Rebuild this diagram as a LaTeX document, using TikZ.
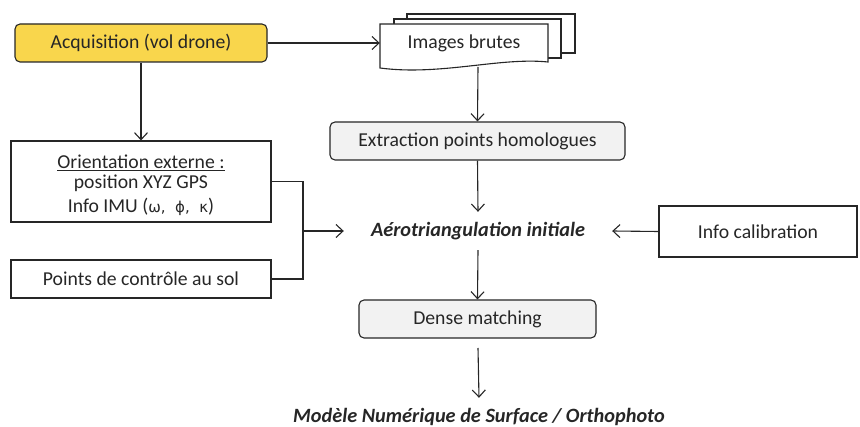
\documentclass[tikz,border=0pt]{standalone}
\usepackage{fontspec}
\setmainfont{Carlito}
\newfontfamily\grk{DejaVu Sans}
\usetikzlibrary{arrows.meta}
\definecolor{acqyellow}{HTML}{F9D64C}
\definecolor{boxgray}{HTML}{F2F2F2}
\definecolor{ink}{HTML}{262626}
\tikzset{
  base/.style={draw=ink, line width=1.1pt, text=ink, inner sep=0pt, align=center},
  roundbox/.style={base, rounded corners=5pt},
  plainbox/.style={base},
  label/.style={text=ink, inner sep=0pt, align=center, font=\bfseries\itshape\fontsize{20.3}{24}\selectfont},
  arr/.style={draw=ink, line width=1.1pt, -{Straight Barb[length=7pt,width=13pt,line width=1.1pt]}},
  conn/.style={draw=ink, line width=1.1pt},
  page/.style={draw=ink, line width=1.1pt, fill=white}
}
\begin{document}
\begin{tikzpicture}[x=1pt,y=-1pt, font=\fontsize{19.7}{23}\selectfont]
\useasboundingbox (0,0) rectangle (860,427);
% nodes
\node[roundbox, fill=acqyellow, minimum width=252pt, minimum height=38pt] (acq) at (141,43) {Acquisition (vol drone)};
% document stack
\draw[page] (407,14) rectangle (575,53);
\draw[page] (394,19) rectangle (561,58);
\draw[page] (380,24) -- (548,24) -- (548,62) .. controls (500,57) and (440,76) .. (380,68) -- cycle;
\node[inner sep=0pt, text=ink, minimum width=168pt, minimum height=38pt] (img) at (464,43) {Images brutes};
\coordinate (imgb) at (478,67);
\node[roundbox, fill=boxgray, minimum width=295pt, minimum height=38pt] (ext) at (477.5,141) {Extraction points homologues};
\node[label, minimum width=268pt, minimum height=38pt] (aero) at (478,231) {Aérotriangulation initiale};
\node[plainbox, minimum width=198pt, minimum height=51pt] (cal) at (758,231.5) {Info calibration};
\node[roundbox, fill=boxgray, minimum width=237pt, minimum height=38pt] (dense) at (477.5,319) {Dense matching};
\coordinate (denseb) at (478,348);
\node[label, minimum height=38pt] (mns) at (479,417) {Modèle Numérique de Surface / Orthophoto};
\node[plainbox, minimum width=260pt, minimum height=81pt] (orient) at (141,181.5) {};
\node[text=ink, inner sep=0pt, align=center] (orienttxt) at (141,185.5) {\underline{Orientation externe :}\\[-3pt] position XYZ GPS\\[1pt] Info IMU ({\grk\fontsize{15}{18}\selectfont ω,~~ϕ,~~κ})};
\node[plainbox, minimum width=260pt, minimum height=38pt] (pts) at (141,279) {Points de contrôle au sol};
\coordinate (j) at (303,231);
% connectors
\draw[arr] (acq.east) -- (acq.east -| img.west);
\draw[arr] (imgb) -- (ext.north);
\draw[arr] (ext.south) -- (aero.north);
\draw[arr] (cal.west) -- (aero.east);
\draw[arr] (aero.south) -- (dense.north);
\draw[arr] (denseb) -- (mns.north);
\draw[arr] (acq.south) -- (orient.north);
\draw[conn] (orient.east) -| (j);
\draw[conn] (pts.east) -| (j);
\draw[arr] (j) -- (aero.west);
\end{tikzpicture}
\end{document}
